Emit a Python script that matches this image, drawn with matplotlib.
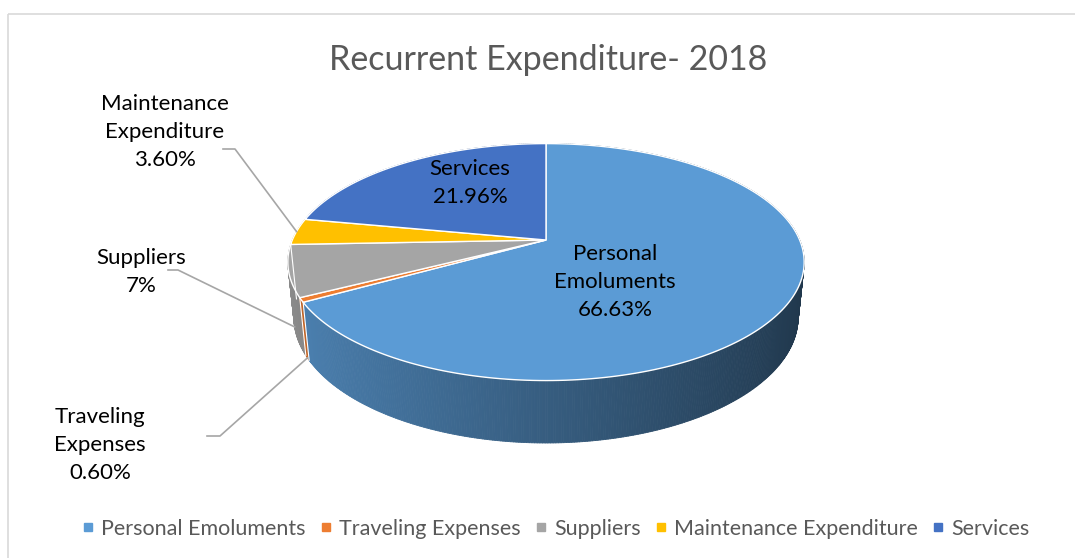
import numpy as np
import matplotlib
matplotlib.use("Agg")
import matplotlib.pyplot as plt
from matplotlib.patches import Polygon, Rectangle
from matplotlib.collections import PolyCollection
from matplotlib.lines import Line2D
from matplotlib.colors import to_rgb

categories = ["Personal Emoluments", "Traveling Expenses", "Suppliers",
              "Maintenance Expenditure", "Services"]
shares = [66.63, 0.60, 7, 3.60, 21.96]
share_labels = ["66.63%", "0.60%", "7%", "3.60%", "21.96%"]
colors = ["#5B9BD5", "#ED7D31", "#A5A5A5", "#FFC000", "#4472C4"]

plt.rcParams["font.family"] = ["Lato", "DejaVu Sans"]

# perspective setup for a tilted disc (pixel space)
cx, cy = 546, 240
alpha = np.radians(26.8)
D0 = 4.79
F = 1215
h = 0.245


def project(theta, z):
    # theta: clockwise from 12 o'clock
    x = np.sin(theta)
    y = np.cos(theta)
    v = y * np.sin(alpha) + z * np.cos(alpha)
    d = D0 + y * np.cos(alpha) - z * np.sin(alpha)
    return cx + F * x / d, cy - F * v / d, d


fig = plt.figure(figsize=(10.75, 5.58), dpi=100)
ax = fig.add_axes([0, 0, 1, 1])
ax.set_xlim(0, 1075)
ax.set_ylim(558, 0)
ax.axis("off")

ax.add_patch(Rectangle((8, 14), 1100, 600, fill=False, edgecolor="#d9d9d9", lw=1.2))

total = sum(shares)
bounds = np.concatenate([[0], np.cumsum(shares)]) / total * 2 * np.pi

# side wall, drawn back to front
quads, qcols, qdepth = [], [], []
for i, c in enumerate(colors):
    t = np.linspace(bounds[i], bounds[i + 1], max(3, int(np.degrees(bounds[i + 1] - bounds[i]) * 2)))
    base = np.array(to_rgb(c))
    for a0, a1 in zip(t[:-1], t[1:]):
        x0, y0, d0 = project(a0, 0)
        x1, y1, _ = project(a1, 0)
        x2, y2, _ = project(a1, -h)
        x3, y3, _ = project(a0, -h)
        quads.append([(x0, y0), (x1, y1), (x2, y2), (x3, y3)])
        shade = np.clip(0.6 - 0.25 * np.sin((a0 + a1) / 2), 0, 1)
        qcols.append(base * shade)
        qdepth.append(d0)
order = np.argsort(qdepth)[::-1]
ax.add_collection(PolyCollection([quads[k] for k in order], facecolors=[qcols[k] for k in order],
                                 edgecolors=[qcols[k] for k in order], linewidths=0.6))

# thin white seams on the visible wall
for b in bounds:
    if np.cos(b) < 0:
        xa, ya, _ = project(b, 0)
        xb, yb, _ = project(b, -h)
        ax.plot([xa, xb], [ya, yb], color="white", lw=0.8)

# top face slices
for i, c in enumerate(colors):
    t = np.linspace(bounds[i], bounds[i + 1], 200)
    xs, ys, _ = project(t, 0)
    pts = [(cx, cy)] + list(zip(xs, ys))
    ax.add_patch(Polygon(pts, closed=True, facecolor=c, edgecolor="white", lw=1.0))

label_size = 16
spacing = 1.5

# labels inside the slices
inside = {0: (615, 282), 4: (470, 183)}
for i, (x, y) in inside.items():
    ax.text(x, y, categories[i].replace(" ", "\n") + "\n" + share_labels[i],
            ha="center", va="center", fontsize=label_size, color="black", linespacing=spacing)

# labels outside with leader lines
outside = {3: ((165, 132), (223, 149), (235, 149), 0.0),
           2: ((141, 272), (168, 270), (178, 270), 1.0),
           1: ((100, 445), (207, 436), (220, 436), 1.0)}
for i, (pos, start, elbow, depth) in outside.items():
    ax.text(pos[0], pos[1], categories[i].replace(" ", "\n") + "\n" + share_labels[i],
            ha="center", va="center", fontsize=label_size, color="black", linespacing=spacing)
    mid = (bounds[i] + bounds[i + 1]) / 2
    ex, ey, _ = project(mid, -h * depth)
    ax.plot([start[0], elbow[0], ex], [start[1], elbow[1], ey], color="#a6a6a6", lw=1.2)

ax.text(548, 60, "Recurrent Expenditure- 2018", ha="center", va="center",
        fontsize=24.5, color="#595959")

handles = [Line2D([], [], marker="s", linestyle="none", markersize=5.5,
                  markerfacecolor=c, markeredgecolor=c) for c in colors]
ax.legend(handles, categories, loc="center", bbox_to_anchor=(0.517, 0.052), ncol=5,
          frameon=False, fontsize=15.5, labelcolor="#595959", handlelength=0.6,
          handletextpad=0.3, columnspacing=0.65)

fig.savefig("out.png", dpi=100)
